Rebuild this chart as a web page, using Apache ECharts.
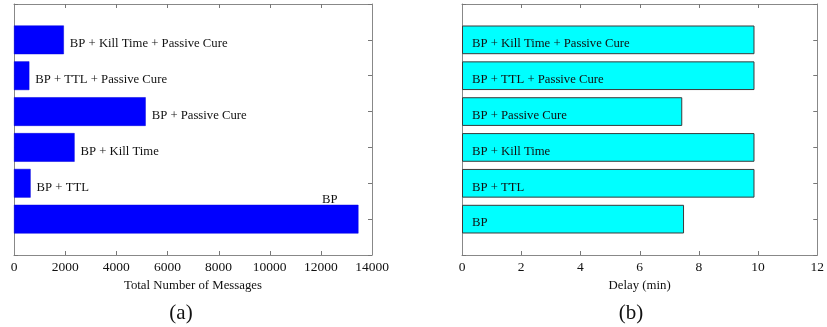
<!DOCTYPE html>
<html><head><meta charset="utf-8">
<script src="https://cdn.jsdelivr.net/npm/echarts@6/dist/echarts.min.js"></script>
<style>html,body{margin:0;padding:0;background:#fff}#c{width:827px;height:327px}</style>
</head><body><div id="c"></div>
<script>
// ---- data ----
const categories = ['BP', 'BP + TTL', 'BP + Kill Time', 'BP + Passive Cure', 'BP + TTL + Passive Cure', 'BP + Kill Time + Passive Cure'];
const totalMessages = [13470, 650, 2370, 5150, 600, 1950];
const delayMin = [7.5, 9.88, 9.88, 7.44, 9.88, 9.88];
const messageTicks = [0, 2000, 4000, 6000, 8000, 10000, 12000, 14000];
const delayTicks = [0, 2, 4, 6, 8, 10, 12];
const axisNames = ['Total Number of Messages', 'Delay (min)'];
const captions = ['(a)', '(b)'];

// ---- build ----
const FONT = '"Liberation Serif", "DejaVu Serif", serif';
const slots = [''].concat(categories).concat([' ']);
const pad = v => [null].concat(v).concat([null]);
const axisGray = '#888888';
const tickGray = '#777777';
const TICK = 4;

function xAxes(gridIndex, ticks, name) {
  const base = {
    type: 'value', gridIndex: gridIndex,
    min: ticks[0], max: ticks[ticks.length - 1], interval: ticks[1] - ticks[0],
    splitLine: { show: false },
    axisLine: { show: true, onZero: false, lineStyle: { color: axisGray, width: 1 } },
    axisTick: { show: false }
  };
  return [
    Object.assign({}, base, {
      position: 'bottom', name: name, nameLocation: 'middle', nameGap: 18,
      nameTextStyle: { fontFamily: FONT, fontSize: 12.8, color: '#111' },
      axisLabel: { fontFamily: FONT, fontSize: 13.5, color: '#111', margin: 5, formatter: v => String(v) }
    }),
    Object.assign({}, base, { position: 'top', axisLabel: { show: false } })
  ];
}
function yAxes(gridIndex) {
  const base = {
    type: 'category', gridIndex: gridIndex, data: slots, boundaryGap: false,
    axisLabel: { show: false }, splitLine: { show: false },
    axisLine: { show: true, onZero: false, lineStyle: { color: axisGray, width: 1 } },
    axisTick: { show: true, inside: true, length: TICK, lineStyle: { color: tickGray } }
  };
  return [
    Object.assign({}, base, { position: 'left' }),
    Object.assign({}, base, { position: 'right' })
  ];
}

// inward x ticks on top and bottom edges, placed through the axis scales
function tickSeries(xIdx, yIdx, ticks) {
  const inner = ticks.slice(1, ticks.length - 1);
  return {
    type: 'custom', xAxisIndex: xIdx, yAxisIndex: yIdx, silent: true, z: 5,
    clip: false,
    data: inner.map(v => [v, 0]),
    encode: { x: 0, y: 1 },
    renderItem: function (params, api) {
      const v = api.value(0);
      const top = api.coord([v, slots.length - 1]);
      const bot = api.coord([v, 0]);
      const x = Math.round(top[0]) + 0.5;
      return {
        type: 'group',
        children: [
          { type: 'line', shape: { x1: x, y1: top[1], x2: x, y2: top[1] + TICK }, style: { stroke: tickGray, lineWidth: 1 } },
          { type: 'line', shape: { x1: x, y1: bot[1], x2: x, y2: bot[1] - TICK }, style: { stroke: tickGray, lineWidth: 1 } }
        ]
      };
    }
  };
}

const labelBase = { show: true, fontFamily: FONT, fontSize: 12.7, color: '#111', formatter: p => p.name };

const leftData = pad(totalMessages).map((v, i) => {
  if (v === null) return null;
  if (slots[i] === 'BP') {
    return { value: v, label: Object.assign({}, labelBase, { position: 'insideTopRight', offset: [-15, -18] }) };
  }
  return v;
});

const option = {
  animation: false,
  backgroundColor: '#fff',
  grid: [
    { left: 14, right: 455, top: 4, bottom: 72, show: false },
    { left: 462, right: 7, top: 4, bottom: 72, show: false }
  ],
  xAxis: xAxes(0, messageTicks, axisNames[0]).concat(xAxes(1, delayTicks, axisNames[1])),
  yAxis: yAxes(0).concat(yAxes(1)),
  series: [
    {
      type: 'bar', xAxisIndex: 0, yAxisIndex: 0, barWidth: '80%',
      data: leftData,
      itemStyle: { color: '#0000ff', borderColor: '#0000dd', borderWidth: 0.5 },
      label: Object.assign({}, labelBase, { position: 'right', distance: 6, offset: [0, 4] })
    },
    {
      type: 'bar', xAxisIndex: 2, yAxisIndex: 2, barWidth: '80%',
      data: pad(delayMin),
      itemStyle: { color: '#00ffff', borderColor: '#3a3a3a', borderWidth: 1 },
      label: Object.assign({}, labelBase, { position: 'insideLeft', distance: 10, offset: [0, 4] })
    },
    tickSeries(0, 0, messageTicks),
    tickSeries(2, 2, delayTicks)
  ],
  graphic: [
    { type: 'text', x: 181, y: 313, style: { text: captions[0], font: '21px ' + FONT, fill: '#111', align: 'center', verticalAlign: 'middle' } },
    { type: 'text', x: 631, y: 313, style: { text: captions[1], font: '21px ' + FONT, fill: '#111', align: 'center', verticalAlign: 'middle' } }
  ]
};
const chart = echarts.init(document.getElementById('c'), null, { renderer: 'canvas' });
chart.setOption(option);
</script>
</body></html>
